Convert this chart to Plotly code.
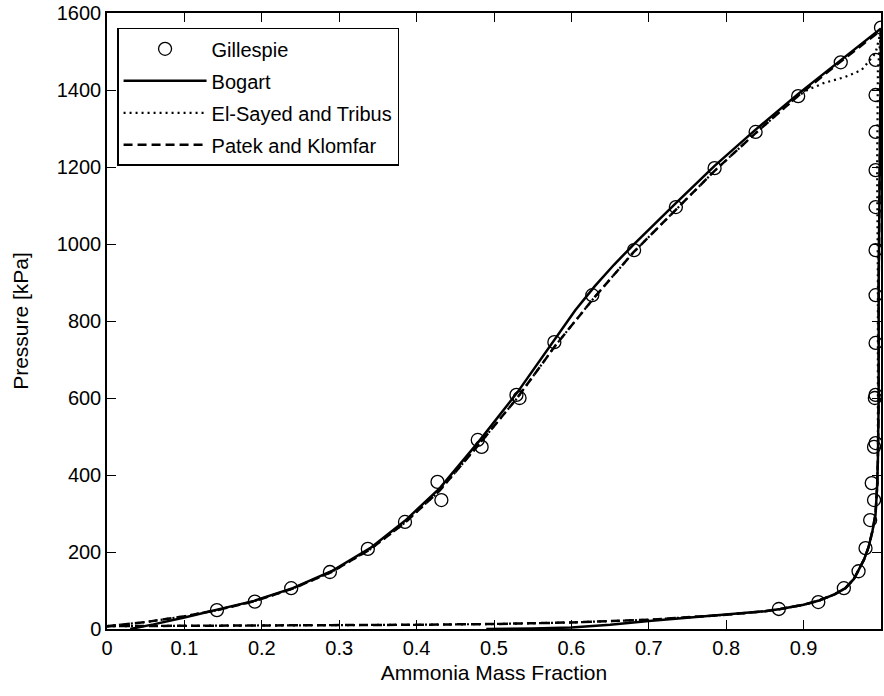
import plotly.graph_objects as go

# ---------------- data ----------------
# Gillespie experimental points (ammonia mass fraction, pressure kPa)
gil_bubble_x = [0.142, 0.191, 0.238, 0.288, 0.337, 0.385, 0.427, 0.432, 0.479, 0.484,
                0.529, 0.533, 0.578, 0.627, 0.681, 0.735, 0.785, 0.838, 0.893, 0.948, 1.0]
gil_bubble_p = [49, 71, 106, 148, 208, 278, 382, 335, 491, 473,
                608, 600, 745, 867, 984, 1096, 1197, 1291, 1384, 1472, 1562]
gil_dew_x = [0.868, 0.919, 0.952, 0.971, 0.980, 0.986, 0.988, 0.991, 0.993, 0.991,
             0.993, 0.992, 0.993, 0.993, 0.993, 0.993, 0.993, 0.993, 0.993, 0.993]
gil_dew_p = [52, 70, 106, 150, 210, 283, 379, 335, 483, 473,
             608, 600, 743, 867, 984, 1096, 1192, 1291, 1387, 1478]

# Bogart model
bog_bubble_x = [0.03, 0.06, 0.10, 0.142, 0.19, 0.24, 0.29, 0.34, 0.385, 0.43, 0.48,
                0.53, 0.58, 0.605, 0.63, 0.655, 0.68, 0.71, 0.735, 0.785, 0.838,
                0.893, 0.948, 1.0]
bog_bubble_p = [0, 12, 30, 50, 73, 106, 150, 210, 281, 366, 486,
                614, 758, 828, 890, 946, 998, 1058, 1106, 1203, 1297,
                1390, 1478, 1560]
bog_dew_x = [0.49, 0.55, 0.60, 0.65, 0.70, 0.75, 0.80, 0.85, 0.87, 0.90, 0.92, 0.94,
             0.954, 0.965, 0.971, 0.978, 0.984, 0.989, 0.993, 0.995, 0.996, 0.997,
             0.997, 0.998, 0.999, 1.0]
bog_dew_p = [0, 1, 4, 11, 21, 29, 37, 46, 52, 63, 74, 90,
             106, 130, 153, 180, 213, 255, 300, 370, 440, 600,
             900, 1200, 1450, 1560]

# El-Sayed and Tribus model
els_bubble_x = [0.0, 0.05, 0.10, 0.142, 0.19, 0.24, 0.29, 0.34, 0.385, 0.43, 0.48,
                0.53, 0.58, 0.63, 0.68, 0.735, 0.785, 0.838, 0.893, 0.905, 0.926,
                0.954, 0.975, 0.993, 0.997, 1.0]
els_bubble_p = [7.4, 18, 33, 49, 72, 105, 148, 207, 276, 360, 478,
                600, 738, 862, 978, 1090, 1190, 1288, 1385, 1400, 1418,
                1434, 1452, 1496, 1530, 1555]
els_dew_x = [0.0, 0.1, 0.2, 0.3, 0.4, 0.5, 0.6, 0.7, 0.75, 0.8, 0.85, 0.87, 0.9, 0.92,
             0.94, 0.954, 0.965, 0.971, 0.978, 0.984, 0.989, 0.993, 0.995, 0.996,
             0.996, 0.996, 0.995, 0.996, 1.0]
els_dew_p = [7.4, 8, 9, 10, 11, 13, 17, 24, 30, 37, 46, 52, 63, 74,
             90, 106, 130, 153, 180, 213, 255, 300, 370, 440,
             600, 900, 1200, 1450, 1555]

# Patek and Klomfar model
pk_bubble_x = [0.0, 0.05, 0.10, 0.142, 0.19, 0.24, 0.29, 0.34, 0.385, 0.43, 0.48,
               0.53, 0.58, 0.63, 0.68, 0.735, 0.785, 0.838, 0.893, 0.948, 1.0]
pk_bubble_p = [7.4, 18, 33, 49, 72, 105, 148, 207, 276, 360, 478,
               600, 738, 862, 978, 1090, 1190, 1288, 1385, 1474, 1555]
pk_dew_x = [0.0, 0.1, 0.2, 0.3, 0.4, 0.5, 0.6, 0.7, 0.75, 0.8, 0.85, 0.87, 0.9, 0.92,
            0.94, 0.954, 0.965, 0.971, 0.978, 0.984, 0.989, 0.993, 0.995, 0.996,
            0.997, 0.997, 0.998, 0.999, 1.0]
pk_dew_p = [7.4, 8, 9, 10, 11, 13, 17, 24, 30, 37, 46, 52, 63, 74,
            90, 106, 130, 153, 180, 213, 255, 300, 370, 440,
            600, 900, 1200, 1450, 1555]

x_ticks = [0, 0.1, 0.2, 0.3, 0.4, 0.5, 0.6, 0.7, 0.8, 0.9, 1.0]
x_tick_labels = ["0", "0.1", "0.2", "0.3", "0.4", "0.5", "0.6", "0.7", "0.8", "0.9", "1"]
y_ticks = [0, 200, 400, 600, 800, 1000, 1200, 1400, 1600]

FONT = "Liberation Sans, Arial, sans-serif"


def joined(a_x, a_y, b_x, b_y):
    return list(a_x) + [None] + list(b_x), list(a_y) + [None] + list(b_y)


fig = go.Figure()

gx, gy = joined(gil_bubble_x, gil_bubble_p, gil_dew_x, gil_dew_p)
fig.add_trace(go.Scatter(x=gx, y=gy, mode="markers", name="Gillespie", legendgroup="g1",
                         marker=dict(symbol="circle-open", size=13, color="black",
                                     line=dict(width=1.3, color="black"))))

bx, by = joined(bog_bubble_x, bog_bubble_p, bog_dew_x, bog_dew_p)
fig.add_trace(go.Scatter(x=bx, y=by, mode="lines", name="Bogart", legendgroup="g2",
                         line=dict(color="black", width=2.5)))

ex, ey = joined(els_bubble_x, els_bubble_p, els_dew_x, els_dew_p)
fig.add_trace(go.Scatter(x=ex, y=ey, mode="lines", name="El-Sayed and Tribus",
                         legendgroup="g3",
                         line=dict(color="black", width=2.2, dash="2px,4px")))

px_, py_ = joined(pk_bubble_x, pk_bubble_p, pk_dew_x, pk_dew_p)
fig.add_trace(go.Scatter(x=px_, y=py_, mode="lines", name="Patek and Klomfar",
                         legendgroup="g4",
                         line=dict(color="black", width=2.5, dash="9px,5px")))

axis_common = dict(showgrid=False, zeroline=False, showline=True, linecolor="black",
                   linewidth=1.5, mirror="ticks", ticks="inside", ticklen=9,
                   tickwidth=1, tickcolor="black",
                   tickfont=dict(family=FONT, size=20, color="black"))

fig.update_xaxes(range=[0, 1], tickvals=x_ticks, ticktext=x_tick_labels,
                 title=dict(text="Ammonia Mass Fraction",
                            font=dict(family=FONT, size=21, color="black"), standoff=8),
                 **axis_common)
fig.update_yaxes(range=[0, 1600], tickvals=y_ticks,
                 title=dict(text="Pressure [kPa]",
                            font=dict(family=FONT, size=21, color="black"), standoff=22),
                 **axis_common)

fig.update_layout(
    width=884, height=696,
    margin=dict(l=107, r=1, t=13, b=67),
    plot_bgcolor="white", paper_bgcolor="white",
    font=dict(family=FONT, size=20, color="black"),
    showlegend=True,
    legend=dict(x=0.013, y=0.976, xanchor="left", yanchor="top",
                bgcolor="white", bordercolor="black", borderwidth=1.5,
                font=dict(family=FONT, size=20, color="black"),
                itemwidth=83, tracegroupgap=3, traceorder="grouped"),
)

fig.write_html("out.html")
